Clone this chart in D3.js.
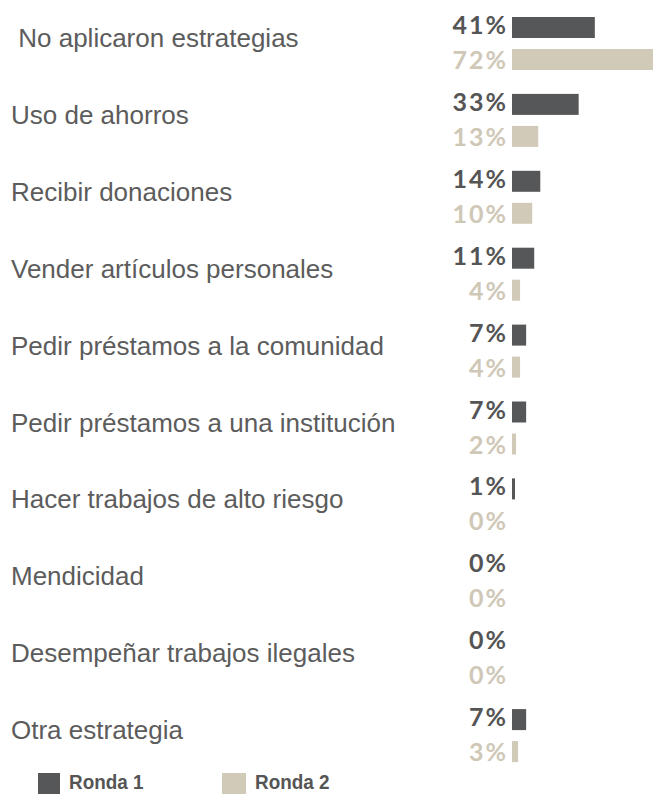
<!DOCTYPE html>
<html><head><meta charset="utf-8">
<script src="https://cdn.jsdelivr.net/npm/d3@7"></script>
<style>body{margin:0;background:#fff} svg{display:block} .cat{white-space:pre}</style>
</head><body><svg id="c" width="653" height="794"></svg>
<script>
const categories = [" No aplicaron estrategias","Uso de ahorros","Recibir donaciones","Vender artículos personales","Pedir préstamos a la comunidad","Pedir préstamos a una institución","Hacer trabajos de alto riesgo","Mendicidad","Desempeñar trabajos ilegales","Otra estrategia"];
const ronda1 = [41,33,14,11,7,7,1,0,0,7];
const ronda2 = [72,13,10,4,4,2,0,0,0,3];
const seriesNames = ["Ronda 1","Ronda 2"];
const barColors = ["#555759","#d2cab9"];
const labelColors = ["#555555","#d0c8b7"];

const svg = d3.select("#c");
const y = d3.scaleBand().domain(categories).range([17, 17 + 76.9 * categories.length]);
const sub = d3.scaleBand().domain(seriesNames).range([0, 53]).paddingInner(0.344).paddingOuter(0);
const x = d3.scaleLinear().domain([0, 100]).range([512, 714]);
const color = d3.scaleOrdinal().domain(seriesNames).range(barColors);
const tcolor = d3.scaleOrdinal().domain(seriesNames).range(labelColors);

const rows = categories.map((c, i) => ({cat: c, vals: [
  {s: seriesNames[0], v: ronda1[i]}, {s: seriesNames[1], v: ronda2[i]}]}));

// category labels
svg.selectAll("text.cat").data(categories).join("text")
  .attr("class", "cat")
  .attr("x", 11)
  .attr("y", d => y(d) + 30)
  .attr("font-family", "'Liberation Sans', Arial, sans-serif")
  .attr("font-size", 26)
  .attr("fill", "#5c5c5c")
  .text(d => d);

const g = svg.selectAll("g.row").data(rows).join("g").attr("class", "row")
  .attr("transform", d => `translate(0,${y(d.cat)})`);

g.selectAll("rect").data(d => d.vals.filter(e => e.v > 0)).join("rect")
  .attr("x", x(0))
  .attr("y", d => sub(d.s))
  .attr("width", d => Math.max(3, x(d.v) - x(0)))
  .attr("height", sub.bandwidth())
  .attr("fill", d => color(d.s));

g.selectAll("text.pct").data(d => d.vals).join("text")
  .attr("class", "pct")
  .attr("x", 508)
  .attr("y", (d, i) => sub(d.s) + (i === 0 ? 17 : 20))
  .attr("text-anchor", "end")
  .attr("font-family", "Lato, 'Open Sans', sans-serif")
  .attr("font-weight", 700)
  .attr("font-size", 25)
  .attr("letter-spacing", 2)
  .attr("fill", d => tcolor(d.s))
  .text(d => d.v + "%");

// legend
const lx = d3.scaleBand().domain(seriesNames).range([38, 38 + 184 * 2]);
const lg = svg.selectAll("g.leg").data(seriesNames).join("g").attr("class", "leg")
  .attr("transform", d => `translate(${lx(d)},773)`);
lg.append("rect").attr("width", d => d === seriesNames[0] ? 22 : 24).attr("height", 21)
  .attr("fill", d => color(d));
lg.append("text")
  .attr("transform", d => `translate(${d === seriesNames[0] ? 31 : 33},16) scale(0.9,1)`)
  .attr("font-family", "'Liberation Sans', Arial, sans-serif")
  .attr("font-weight", 700).attr("font-size", 21).attr("fill", "#555555")
  .text(d => d);
</script></body></html>
